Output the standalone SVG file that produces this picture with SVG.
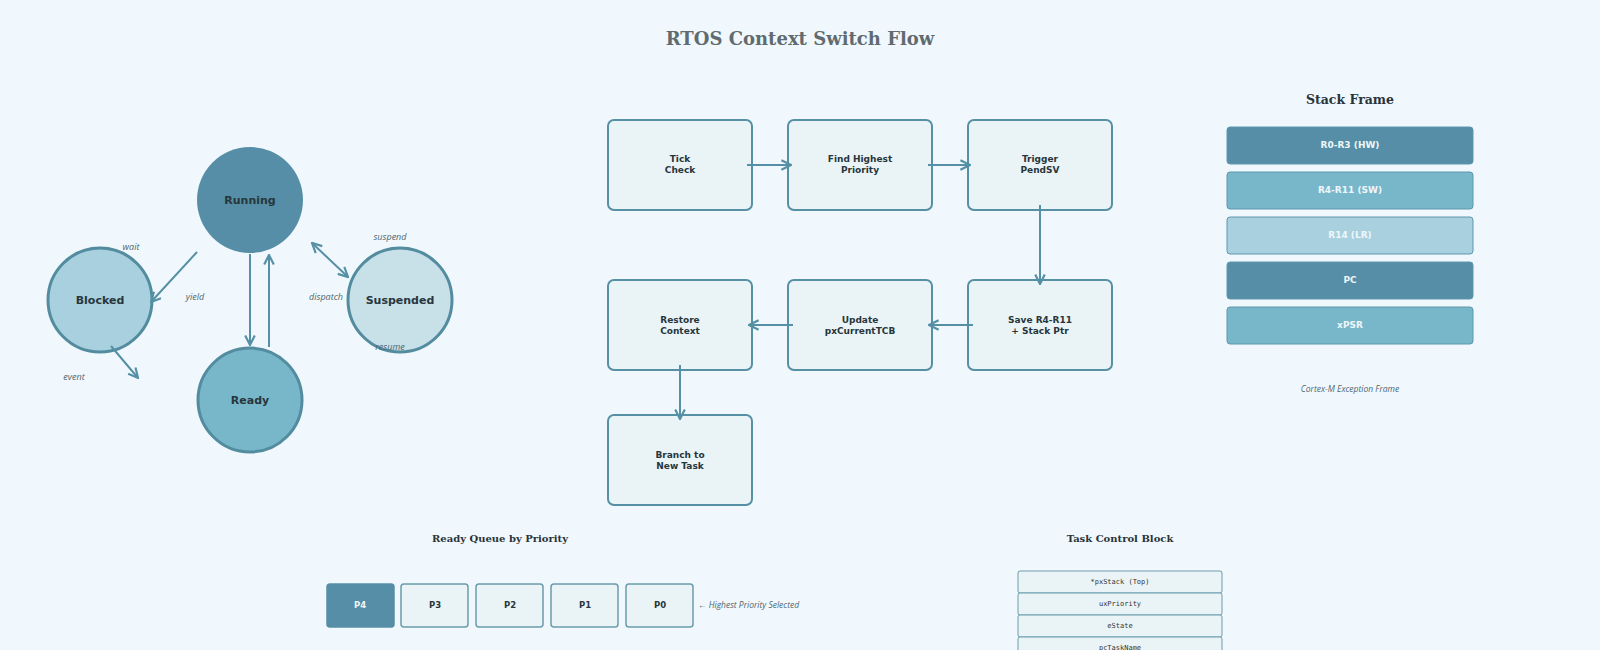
<svg xmlns="http://www.w3.org/2000/svg" width="1600" height="650" viewBox="0 0 1600 650">
<defs>
<marker id="ah" viewBox="0 0 10 10" refX="9" refY="5" markerWidth="6" markerHeight="6" orient="auto-start-reverse"><path d="M1,1 L9,5 L1,9" fill="none" stroke="#5590a4" stroke-width="1.8"/></marker>
<style>
.title{font-family:"DejaVu Serif",serif;font-weight:bold;fill:#5f6b70}
.h{font-family:"DejaVu Serif",serif;font-weight:bold;fill:#2a3338}
.st{stroke:#538c9f;stroke-width:3}
.sl{font-family:"DejaVu Sans",sans-serif;font-weight:bold;font-size:11px;fill:#27363c;text-anchor:middle}
.lbl{font-family:"Open Sans",sans-serif;font-style:italic;font-size:9px;fill:#4f6670;text-anchor:middle}
.box{fill:#eaf4f7;stroke:#5590a4;stroke-width:2}
.bt{font-family:"DejaVu Sans",sans-serif;font-weight:bold;font-size:9px;fill:#27363c;text-anchor:middle}
.conn line{stroke:#5590a4;stroke-width:2;marker-end:url(#ah)}
.bar{stroke:#5f98ab;stroke-width:1}
.bw{font-family:"DejaVu Sans",sans-serif;font-weight:bold;font-size:9px;fill:#eef6f9;text-anchor:middle}
.q{fill:#eaf4f7;stroke:#6a9cac;stroke-width:1.5}
.tcb{fill:#eaf4f7;stroke:#6a9cac;stroke-width:1}
.mono{font-family:"DejaVu Sans Mono",monospace;font-size:7px;fill:#333;text-anchor:middle}
</style>
</defs>
<rect width="1600" height="650" fill="#f0f8fd"/>
<text class="title" x="800" y="45" font-size="18" text-anchor="middle">RTOS Context Switch Flow</text>

<g id="running"><circle cx="250" cy="200" r="53" fill="#558ea6"/><text class="sl" x="250" y="204">Running</text></g>
<g id="blocked"><circle cx="100" cy="300" r="52" fill="#a8d0df" class="st"/><text class="sl" x="100" y="304">Blocked</text></g>
<g id="ready"><circle cx="250" cy="400" r="52" fill="#78b6ca" class="st"/><text class="sl" x="250" y="404">Ready</text></g>
<g id="suspended"><circle cx="400" cy="300" r="52" fill="#c8e0e8" class="st"/><text class="sl" x="400" y="304">Suspended</text></g>

<g id="state-connectors" class="conn">
<line x1="197" y1="252" x2="151" y2="302"/>
<line x1="250" y1="254" x2="250" y2="345"/>
<line x1="269" y1="347" x2="269" y2="255"/>
<line x1="312" y1="243" x2="348" y2="277" marker-start="url(#ah)"/>
<line x1="111" y1="346" x2="138" y2="378"/>
</g>
<g id="state-labels">
<text class="lbl" x="131" y="250">wait</text>
<text class="lbl" x="195" y="300">yield</text>
<text class="lbl" x="326" y="300">dispatch</text>
<text class="lbl" x="390" y="240">suspend</text>
<text class="lbl" x="390" y="350">resume</text>
<text class="lbl" x="74" y="380">event</text>
</g>

<g id="tick"><rect class="box" x="608" y="120" width="144" height="90" rx="6"/><text class="bt" x="680" y="162">Tick</text><text class="bt" x="680" y="173">Check</text></g>
<g id="find"><rect class="box" x="788" y="120" width="144" height="90" rx="6"/><text class="bt" x="860" y="162">Find Highest</text><text class="bt" x="860" y="173">Priority</text></g>
<g id="trigger"><rect class="box" x="968" y="120" width="144" height="90" rx="6"/><text class="bt" x="1040" y="162">Trigger</text><text class="bt" x="1040" y="173">PendSV</text></g>
<g id="save"><rect class="box" x="968" y="280" width="144" height="90" rx="6"/><text class="bt" x="1040" y="323">Save R4-R11</text><text class="bt" x="1040" y="334">+ Stack Ptr</text></g>
<g id="update"><rect class="box" x="788" y="280" width="144" height="90" rx="6"/><text class="bt" x="860" y="323">Update</text><text class="bt" x="860" y="334">pxCurrentTCB</text></g>
<g id="restore"><rect class="box" x="608" y="280" width="144" height="90" rx="6"/><text class="bt" x="680" y="323">Restore</text><text class="bt" x="680" y="334">Context</text></g>
<g id="branch"><rect class="box" x="608" y="415" width="144" height="90" rx="6"/><text class="bt" x="680" y="458">Branch to</text><text class="bt" x="680" y="469">New Task</text></g>

<g id="flow-connectors" class="conn">
<line x1="747" y1="165" x2="791" y2="165"/>
<line x1="928" y1="165" x2="970" y2="165"/>
<line x1="1040" y1="205" x2="1040" y2="284"/>
<line x1="973" y1="325" x2="929" y2="325"/>
<line x1="793" y1="325" x2="749" y2="325"/>
<line x1="680" y1="365" x2="680" y2="419"/>
</g>

<g id="stack-frame">
<text class="h" x="1350" y="104" font-size="12.5" text-anchor="middle">Stack Frame</text>
<rect class="bar" x="1227" y="127" width="246" height="37" rx="3" fill="#558ea6"/><text class="bw" x="1350" y="148">R0-R3 (HW)</text>
<rect class="bar" x="1227" y="172" width="246" height="37" rx="3" fill="#78b6ca"/><text class="bw" x="1350" y="193">R4-R11 (SW)</text>
<rect class="bar" x="1227" y="217" width="246" height="37" rx="3" fill="#a8d0df"/><text class="bw" x="1350" y="238">R14 (LR)</text>
<rect class="bar" x="1227" y="262" width="246" height="37" rx="3" fill="#558ea6"/><text class="bw" x="1350" y="283">PC</text>
<rect class="bar" x="1227" y="307" width="246" height="37" rx="3" fill="#78b6ca"/><text class="bw" x="1350" y="328">xPSR</text>
<text class="lbl" x="1350" y="392" style="font-size:8.5px">Cortex-M Exception Frame</text>
</g>

<g id="ready-queue">
<text class="h" x="500" y="542" font-size="10" text-anchor="middle">Ready Queue by Priority</text>
<rect x="327" y="584" width="67" height="43" rx="3" fill="#558ea6" stroke="#558ea6" stroke-width="1.5"/><text class="bw" x="360" y="608" style="font-size:8.5px">P4</text>
<rect class="q" x="401" y="584" width="67" height="43" rx="3"/><text class="bt" x="435" y="608" style="font-size:8.5px">P3</text>
<rect class="q" x="476" y="584" width="67" height="43" rx="3"/><text class="bt" x="510" y="608" style="font-size:8.5px">P2</text>
<rect class="q" x="551" y="584" width="67" height="43" rx="3"/><text class="bt" x="585" y="608" style="font-size:8.5px">P1</text>
<rect class="q" x="626" y="584" width="67" height="43" rx="3"/><text class="bt" x="660" y="608" style="font-size:8.5px">P0</text>
<text class="lbl" x="698" y="608" style="text-anchor:start;font-size:8.5px">← Highest Priority Selected</text>
</g>

<g id="tcb">
<text class="h" x="1120" y="542" font-size="10" text-anchor="middle">Task Control Block</text>
<rect class="tcb" x="1018" y="571" width="204" height="22" rx="2"/><text class="mono" x="1120" y="584">*pxStack (Top)</text>
<rect class="tcb" x="1018" y="593" width="204" height="22" rx="2"/><text class="mono" x="1120" y="606">uxPriority</text>
<rect class="tcb" x="1018" y="615" width="204" height="22" rx="2"/><text class="mono" x="1120" y="628">eState</text>
<rect class="tcb" x="1018" y="637" width="204" height="22" rx="2"/><text class="mono" x="1120" y="650">pcTaskName</text>
</g>
</svg>
